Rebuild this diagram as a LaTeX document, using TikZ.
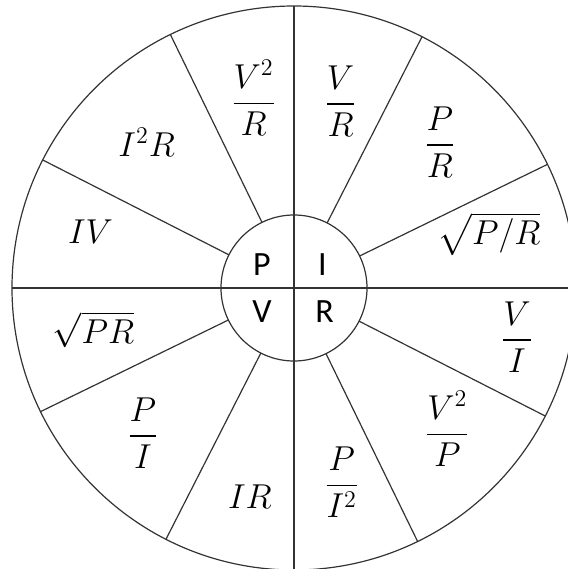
\documentclass[tikz,border=0pt]{standalone}
\usepackage{amsmath}
\usepackage{fontspec}
\newfontfamily\hubfont{Carlito}
\tikzset{
    rim/.style={circle, draw, minimum size = 282pt, inner sep = 0, outer sep = 0},
    hub/.style={circle, draw, minimum size = 73pt, inner sep = 0, outer sep = 0},
    wheelline/.style={draw=black!80, line width = 0.6pt},
    qty/.style={inner sep = 0, font=\fontsize{17}{20}\hubfont},
    formula/.style={inner sep = 0, font=\fontsize{16.5}{20}\selectfont},
}
\newcommand{\spoke}[1]{%
    \draw[wheelline] (hub.#1) -- (rim.#1);
}

\begin{document}
\begin{tikzpicture}[x=0.5pt, y=0.5pt]
        \useasboundingbox (-294,-281) rectangle (274,288);
        \clip (-294,-281) rectangle (274,288);
        \node[rim, wheelline] (rim) at (0,0) {};
        \node[hub, wheelline] (hub) at (0,0) {};
        \draw[wheelline] (rim.west) -- (rim.east);
        \draw[wheelline] (rim.north) -- (rim.south);
        %
        % Spokes
        \spoke{26.57}
        \spoke{63.43}
        \spoke{116.57}
        \spoke{153.43}
        \spoke{206.57}
        \spoke{243.43}
        \spoke{296.57}
        \spoke{333.43}
        %
        % Hub
        \node[qty] (Hp) at (-32,23.5) {P};
        \node[qty] (Hi) at (28.5,23.5) {I};
        \node[qty] (Hv) at (-32,-23.5) {V};
        \node[qty] (Hr) at (30.5,-23.5) {R};
        %
        % Sectors, clockwise from the top
        \node[formula] (S1) at (46.6,187) {$\dfrac{V}{R}$};
        \node[formula] (S2) at (146,146) {$\dfrac{P}{R}$};
        \node[formula] (S3) at (195,54) {$\sqrt{P/R}$};
        \node[formula] (S4) at (223,-49) {$\dfrac{V}{I}$};
        \node[formula] (S5) at (153.5,-141) {$\dfrac{V^2}{P}$};
        \node[formula] (S6) at (47.7,-194.6) {$\dfrac{P}{I^2}$};
        \node[formula] (S7) at (-44,-209) {$IR$};
        \node[formula] (S8) at (-151,-145) {$\dfrac{P}{I}$};
        \node[formula] (S9) at (-200.5,-41.7) {$\sqrt{PR}$};
        \node[formula] (S10) at (-203.4,56) {$IV$};
        \node[formula] (S11) at (-147.3,146) {$I^2R$};
        \node[formula] (S12) at (-40.4,190) {$\dfrac{V^2}{R}$};
\end{tikzpicture}
\end{document}
